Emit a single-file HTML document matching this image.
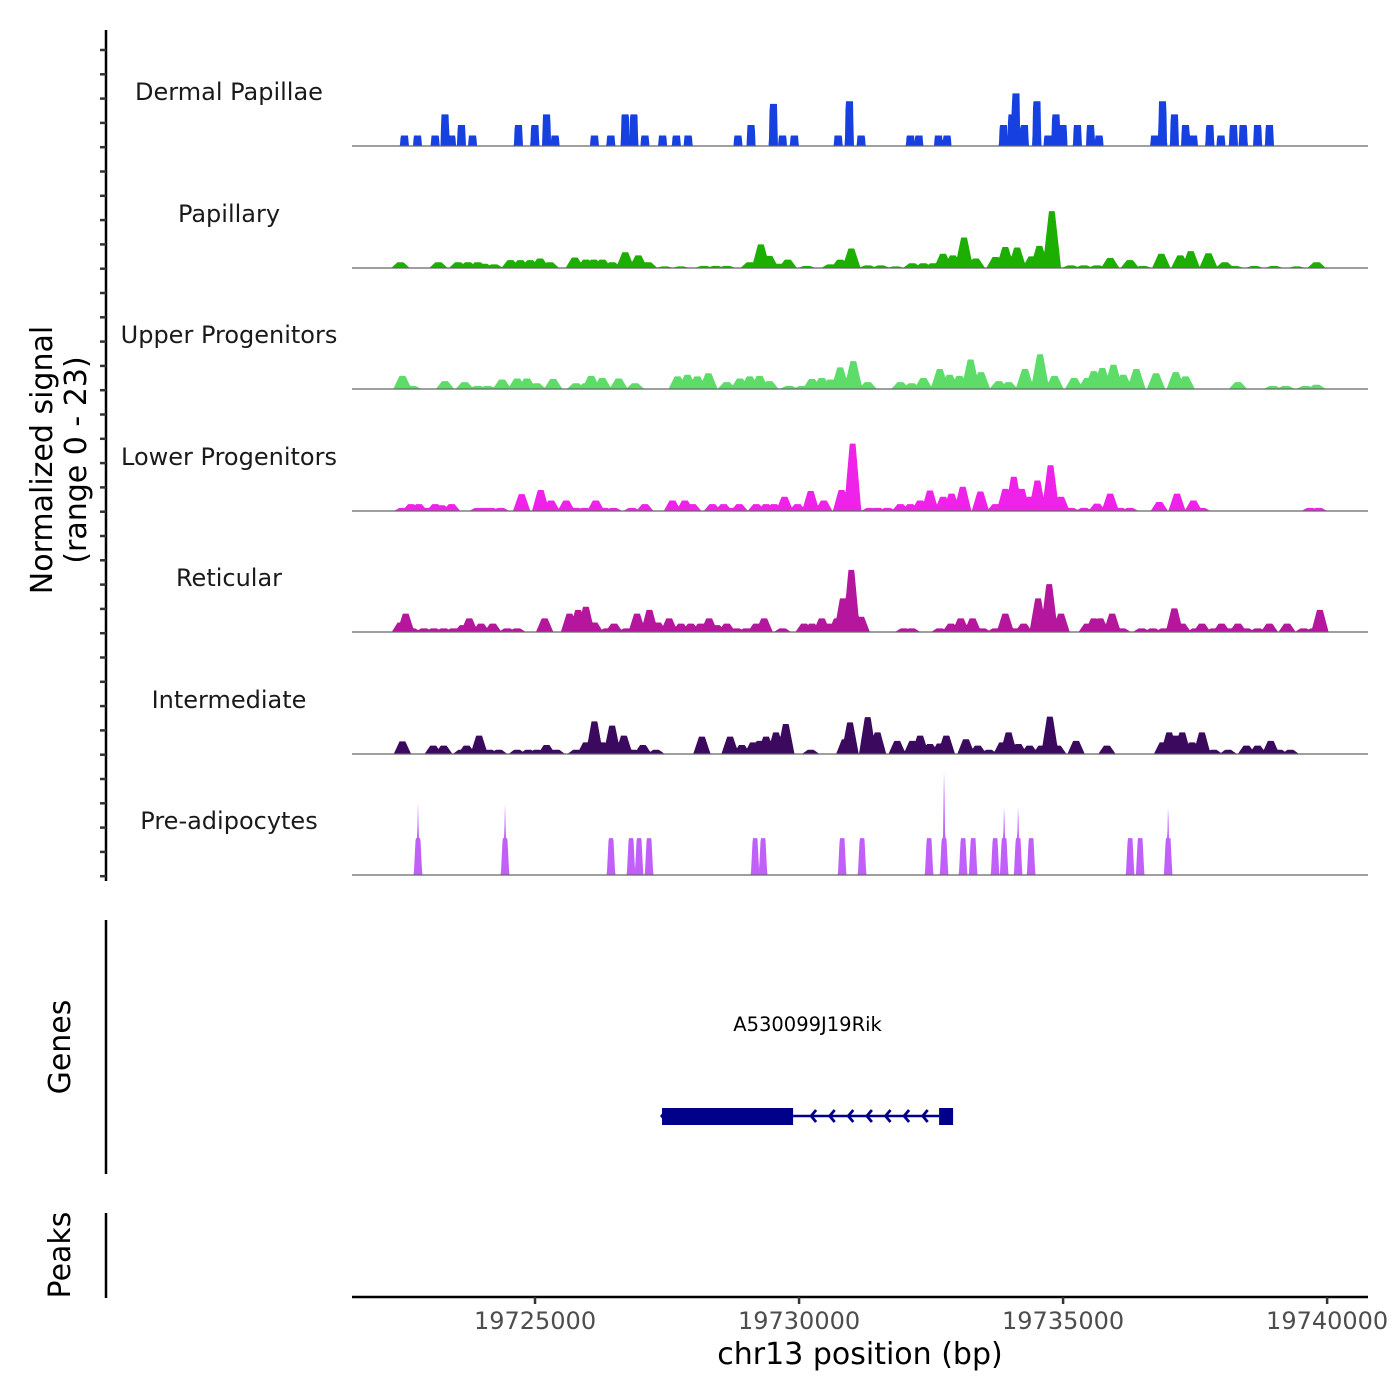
<!DOCTYPE html>
<html><head><meta charset="utf-8"><style>
html,body{margin:0;padding:0;background:#fff}
svg{display:block}
text{font-family:"DejaVu Sans","Liberation Sans",sans-serif}
</style></head><body>
<svg id="chart" width="1400" height="1400" viewBox="0 0 1400 1400" xmlns="http://www.w3.org/2000/svg"></svg>
<script>
const regionStart = 19721496;
const trackNames = ["Dermal Papillae","Papillary","Upper Progenitors","Lower Progenitors","Reticular","Intermediate","Pre-adipocytes"];
const trackColors = ["#1740e0","#1cae00","#5ddc6a","#ee22e8","#b4169e","#3b0a5e","#c060f8"];
const xTicks = [19725000,19730000,19735000,19740000];
const xTickLabels = ["19725000","19730000","19735000","19740000"];

const dpPos = [1030,1278,1613,1799,1924,2110,2321,3189,3500,3723,3884,4629,4939,5212,5374,5585,5920,6180,6404,7347,7595,8017,8191,8414,9245,9456,9680,10611,10772,11144,11306,12373,12534,12609,12770,13006,13217,13366,13502,13775,14023,14185,15239,15388,15612,15823,15972,16282,16493,16729,16915,17188,17411];
const dpVal = [2,2,2,6,2,4,2,4,4,6,2,2,2,6,6,2,2,2,2,2,4,8,2,2,2,8.5,2,2,2,2,2,4,6,10,4,8.5,2,6,4,4,4,2,2,8.5,6,4,2,4,2,4,4,4,4];

const papPos = [956,1675,2048,2234,2420,2544,2730,3040,3227,3413,3599,3785,4257,4468,4617,4778,4964,5212,5460,5647,5957,6267,6701,6925,7136,7570,7781,7942,8129,8290,8650,9097,9283,9494,9804,10052,10338,10648,10859,11045,11231,11417,11628,11852,12224,12410,12633,12906,13055,13291,13651,13899,14147,14396,14768,15016,15364,15723,15922,16257,16567,16754,17126,17498,17932,18305];
const papVal = [1.1,1.1,1.1,1.1,1.1,0.8,0.7,1.5,1.5,1.5,1.8,1.1,2,1.6,1.6,1.6,1.1,3,2.4,1.1,0.3,0.3,0.4,0.4,0.4,1.1,4.5,2.3,0.8,1.6,0.4,0.7,1.6,3.7,0.5,0.5,0.3,0.9,0.9,0.9,2.7,2.4,5.8,1.8,2.1,4,3.9,2.2,4.2,10.8,0.5,0.5,0.5,1.9,1.5,0.4,2.7,2.4,3.2,2.8,1.1,0.4,0.4,0.4,0.3,1.1];

const upPos = [993,1179,1799,2172,2420,2606,2879,3165,3351,3537,3847,4281,4468,4567,4778,5088,5398,6205,6391,6577,6788,7136,7384,7570,7756,7942,8315,8563,8749,8935,9097,9283,9531,9804,10424,10635,10859,11169,11355,11541,11752,11951,12286,12472,12782,13068,13341,13713,13961,14085,14247,14458,14644,14892,15264,15637,15823,16816,17473,17721,18094,18305];
const upVal = [2.5,0.6,1.5,1.3,0.6,0.6,1.8,2,2,1.1,1.9,1.1,1.1,2.5,2.1,2,1.1,2.4,2.7,2.4,3,1.3,2,2.4,2.5,1.5,0.6,0.6,1.9,2.1,1.8,4.1,5.3,1.3,1.3,1.1,2.1,3.8,2.7,2.5,5.6,3.2,1.5,1.3,3.8,6.6,2.5,2.1,2.1,3.4,4,4.6,2.7,3.8,3,3.2,2.4,1.3,0.6,0.6,0.6,0.8];

const lpPos = [993,1154,1303,1464,1613,1737,1924,2420,2544,2668,2854,3251,3611,3810,4095,4281,4443,4654,4815,4989,5336,5585,6106,6342,6490,6863,7074,7235,7372,7694,7880,8029,8228,8476,8724,8972,9308,9518,9841,9990,10176,10424,10611,10797,10983,11231,11392,11603,11938,12224,12410,12571,12720,12882,13018,13266,13465,13651,13899,14147,14396,14582,14768,15326,15661,15972,16133,18181,18342];
const lpVal = [0.6,1.3,1.3,0.6,1.3,1.1,1.3,0.6,0.6,0.6,0.6,3.2,4,2,2,0.6,0.6,2,0.6,0.6,0.6,1.3,2,2,1.3,1.3,1.3,0.6,1.3,1.3,1.3,1.3,2.7,1.3,3.8,2,4,12.8,0.6,0.6,0.6,1.3,1.3,2,3.9,2.7,3.3,4.6,3.7,1.3,4.2,6.5,4.2,2.7,5.8,8.7,2.7,0.6,0.6,1.4,3.3,0.6,0.6,1.7,3.3,2,0.6,0.6,0.6];

const retPos = [956,1055,1179,1402,1588,1775,1961,2135,2259,2482,2705,2978,3165,3686,4157,4319,4468,4629,4865,5001,5237,5436,5671,5833,6044,6267,6453,6639,6801,6950,7136,7322,7508,7694,7843,8191,8600,8749,8935,9059,9221,9332,9494,9680,10486,10635,11169,11380,11566,11790,11976,12224,12410,12596,12757,13031,13241,13465,13961,14085,14209,14433,14619,14991,15202,15413,15612,15761,16009,16133,16356,16505,16654,16816,16977,17188,17411,17746,18057,18243,18367];
const retVal = [1.8,3.5,0.7,0.7,0.7,0.7,0.7,1.3,2.6,1.6,1.6,0.7,0.7,2.6,3.5,4.2,4.8,1.8,0.7,1.6,0.7,3.5,4.2,1.8,2.6,1.6,1.6,1.6,2.6,1.3,1.6,0.7,0.7,1.6,2.6,0.7,1.6,1.6,2.6,1.6,2.6,6.4,11.8,2.9,0.7,0.7,0.7,1.6,2.6,2.6,0.7,0.7,3.5,0.7,1.6,6.4,9.1,3.5,1.6,2.6,2.6,3.5,0.7,0.7,0.7,0.7,4.5,1.6,0.7,1.6,0.7,1.6,0.7,1.6,0.7,0.7,1.6,1.6,0.7,0.7,4.2];

const intPos = [993,1576,1775,2110,2209,2445,2643,2817,3165,3376,3537,3723,3909,4281,4468,4629,4778,4964,5026,5187,5361,5547,5795,6664,7198,7421,7632,7756,7880,8067,8253,8724,9370,9469,9804,9990,10362,10648,10797,10983,11169,11293,11665,11889,12100,12348,12472,12658,12869,13093,13254,13403,13750,14334,15388,15513,15637,15761,15947,16133,16356,16629,16977,17188,17436,17597,17808];
const intVal = [2.4,1.6,1.6,0.8,1.6,3.5,0.8,0.8,0.8,0.8,0.8,1.7,0.8,0.8,2.2,6.2,2.2,5.4,2.2,3.5,0.8,1.7,0.8,3.3,3.3,1.7,2.2,2.5,3.3,4.1,5.7,0.8,2.8,6,7,4.1,2.5,2.5,3.5,1.9,2,3.5,2.8,1.6,0.8,2.2,4.1,1.9,1.6,1.6,7.1,1.6,2.5,1.6,2.2,4.1,3.5,4.1,2.2,4.1,0.8,0.8,1.6,1.6,2.5,0.8,0.8];

const adPos = [1288,2936,4943,5322,5474,5663,7671,7822,9319,9697,10966,11250,11610,11800,12216,12387,12652,12898,14773,14963,15493];
const adVal = [7,7,7,7,7,7,7,7,7,7,7,7,7,7,7,7,7,7,7,7,7];
const adSpikePos = [1288,2936,11250,12387,12652,15493];
const adSpikeVal = [13.9,13.9,20.5,13.9,13.9,13.9];

const geneName = "A530099J19Rik";
const geneStart = 19727405;
const geneEnd = 19732917;
const cdsEnd = 19729887;
const exon2Start = 19732652;

const NS = "http://www.w3.org/2000/svg";
const svg = document.getElementById("chart");
const X0 = 352, X1 = 1368;
const domainMin = 19721534, domainMax = 19740774;
function xScale(bp){ return X0 + (bp - domainMin) / (domainMax - domainMin) * (X1 - X0); }
const pxPerUnit = 121 / 23;
const baselines = [146,268,389,511,632,754,875];

function el(tag, attrs, parent){
  const e = document.createElementNS(NS, tag);
  for (const k in attrs) e.setAttribute(k, attrs[k]);
  (parent || svg).appendChild(e);
  return e;
}

const series = [
  {pos: dpPos, val: dpVal, flat: 70, slope: 15},
  {pos: papPos, val: papVal, flat: 55, slope: 120},
  {pos: upPos, val: upVal, flat: 55, slope: 120},
  {pos: lpPos, val: lpVal, flat: 55, slope: 110},
  {pos: retPos, val: retVal, flat: 55, slope: 110},
  {pos: intPos, val: intVal, flat: 55, slope: 110},
  {pos: adPos, val: adVal, flat: 45, slope: 35}
];

function profileAt(s, bp){
  let h = 0;
  for (let i = 0; i < s.pos.length; i++){
    const d = Math.abs(bp - (regionStart + s.pos[i]));
    let v;
    if (d <= s.flat) v = s.val[i];
    else if (d <= s.flat + s.slope) v = s.val[i] * (1 - (d - s.flat) / s.slope);
    else v = 0;
    if (v > h) h = v;
  }
  return h;
}

series.forEach((s, t) => {
  const g = el("g", {});
  
  
  const base = baselines[t];
  const lbl = el("text", {x: 229, y: base - 46, "text-anchor": "middle", "font-size": 24, fill: "#1a1a1a"}, g);
  lbl.textContent = trackNames[t];
  
  
  let d = "M" + X0 + "," + base;
  for (let x = X0; x <= X1; x += 0.5){
    const bp = domainMin + (x - X0) / (X1 - X0) * (domainMax - domainMin);
    let h = profileAt(s, bp);
    if (t === 6){
      for (let i = 0; i < adSpikePos.length; i++){
        const dd = Math.abs(bp - (regionStart + adSpikePos[i]));
        const v = adSpikeVal[i] * Math.max(0, 1 - dd / 30);
        if (v > h) h = v;
      }
    }
    d += " L" + x + "," + (base - h * pxPerUnit).toFixed(2);
  }
  d += " L" + X1 + "," + base + " Z";
  const area = el("path", {d: d, fill: trackColors[t], stroke: "none"}, g);
  
  
  const bl = el("line", {x1: X0, x2: X1, y1: base, y2: base, stroke: "#666", "stroke-width": 1.2}, g);
  
  
});

// y axis
const yAxis = el("line", {x1: 106, x2: 106, y1: 30, y2: 881, stroke: "#000", "stroke-width": 2.5});


for (let i = 0; i < 35; i++){
  const y = 50 + i * 24.3;
  const tk = el("line", {x1: 100, x2: 106, y1: y, y2: y, stroke: "#333", "stroke-width": 2.5});
  
  
}
const yt = el("text", {transform: "translate(52,460) rotate(-90)", "text-anchor": "middle", "font-size": 30, fill: "#000"});
yt.textContent = "Normalized signal";


const yt2 = el("text", {transform: "translate(86,460) rotate(-90)", "text-anchor": "middle", "font-size": 30, fill: "#000"});
yt2.textContent = "(range 0 - 23)";



// genes panel
const gAxis = el("line", {x1: 106, x2: 106, y1: 920, y2: 1174, stroke: "#000", "stroke-width": 2.5});


const gt = el("text", {transform: "translate(70,1047) rotate(-90)", "text-anchor": "middle", "font-size": 30, fill: "#000"});
gt.textContent = "Genes";


const gl = el("text", {x: (xScale(geneStart) + xScale(geneEnd)) / 2, y: 1031, "text-anchor": "middle", "font-size": 19.5, fill: "#000"});
gl.textContent = geneName;


const gline = el("line", {x1: xScale(cdsEnd), x2: xScale(exon2Start), y1: 1116, y2: 1116, stroke: "#00008b", "stroke-width": 2.5});


const ex1 = el("rect", {x: xScale(geneStart), y: 1108, width: xScale(cdsEnd) - xScale(geneStart), height: 17, fill: "#00008b"});


const ex2 = el("rect", {x: xScale(exon2Start), y: 1108, width: xScale(geneEnd) - xScale(exon2Start), height: 17, fill: "#00008b"});


const lh = el("path", {d: "M" + (xScale(geneStart) - 2) + ",1116 l4,-5 v10 z", fill: "#00008b"});


const nArrows = 7;
for (let i = 0; i < nArrows; i++){
  const ax = xScale(cdsEnd) + 18 + i * 18.6;
  const ar = el("path", {d: "M" + (ax + 5) + ",1110 L" + ax + ",1116 L" + (ax + 5) + ",1122", fill: "none", stroke: "#00008b", "stroke-width": 2.8});
  
  
}

// peaks panel
const pAxis = el("line", {x1: 106, x2: 106, y1: 1213, y2: 1298, stroke: "#000", "stroke-width": 2.5});


const pt = el("text", {transform: "translate(70,1255) rotate(-90)", "text-anchor": "middle", "font-size": 30, fill: "#000"});
pt.textContent = "Peaks";



// x axis
const xAxis = el("line", {x1: X0, x2: X1, y1: 1297, y2: 1297, stroke: "#000", "stroke-width": 2.5});


xTicks.forEach((v, i) => {
  const x = xScale(v);
  const tk = el("line", {x1: x, x2: x, y1: 1297, y2: 1304, stroke: "#333", "stroke-width": 2.5});
  
  
  const tl = el("text", {x: x, y: 1329, "text-anchor": "middle", "font-size": 24, fill: "#4d4d4d"});
  tl.textContent = xTickLabels[i];
  
  
});
const xt = el("text", {x: 860, y: 1364, "text-anchor": "middle", "font-size": 30, fill: "#000"});
xt.textContent = "chr13 position (bp)";


</script>
</body></html>
